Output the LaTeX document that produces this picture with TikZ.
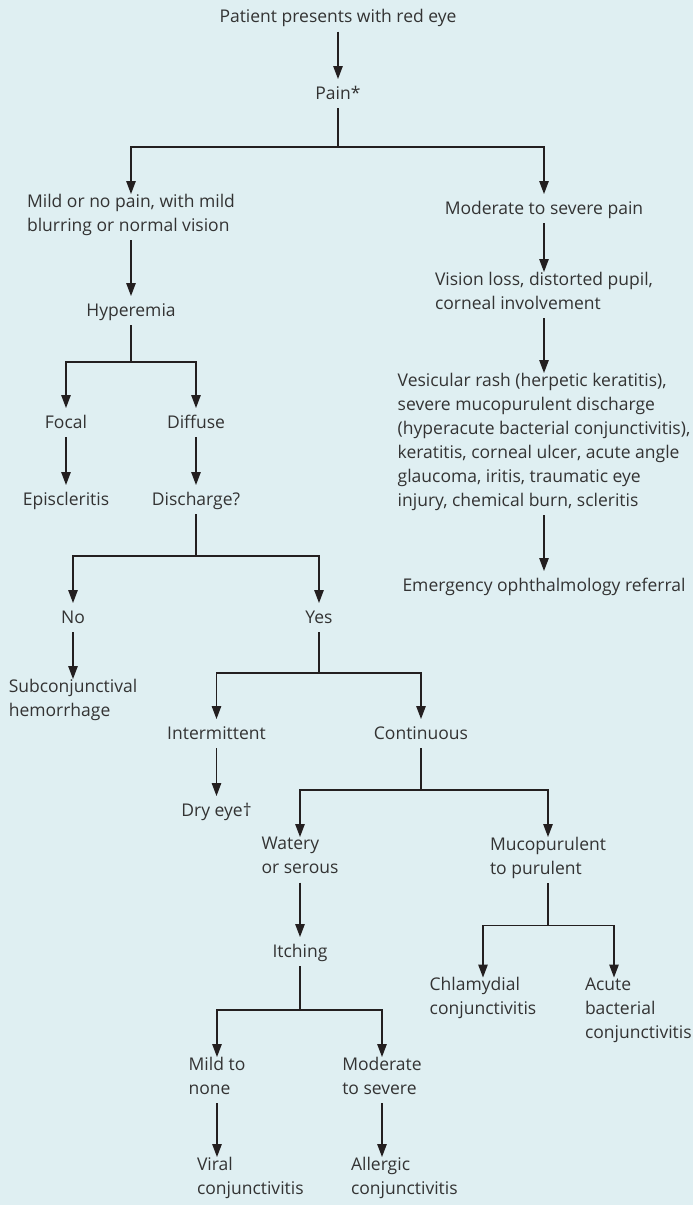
\documentclass[tikz,border=0pt]{standalone}
\usepackage{fontspec}
\setmainfont{Open Sans}
\usepackage{xcolor}
\usetikzlibrary{arrows.meta}

\definecolor{bgblue}{RGB}{223,239,242}
\definecolor{inkgray}{RGB}{51,51,51}
\definecolor{linegray}{RGB}{35,31,32}
\newcommand{\topstrut}{\rule{0pt}{20pt}}
\newcommand{\botstrut}{\rule[-9pt]{0pt}{9pt}}

\begin{document}
\begin{tikzpicture}[x=1pt, y=-1pt,
    >={Triangle[length=13pt,width=9.5pt]},
    every node/.style={inner sep=0pt, outer sep=0pt, text=inkgray,
      align=left, anchor=north,
      font=\fontsize{17.5}{24}\selectfont,
      execute at begin node=\topstrut,
      execute at end node=\botstrut},
    every edge/.style={draw=linegray, line width=1.2pt, ->},
    branch/.style={draw=linegray, line width=1.2pt, ->}]
  \fill[bgblue] (0,0) rectangle (693,1205);
  \useasboundingbox (0,0) rectangle (693,1205);

  % top of the tree
  \node (patient) at (338,2.7)  {Patient presents with red eye};
  \node (pain)    at (338,79)   {Pain*};
  \node (mild)    at (131,194)  {Mild or no pain, with mild\\blurring or normal vision};
  \node (modsev)  at (544,194)  {Moderate to severe pain};

  % right column
  \node (vision)  at (544,272)  {Vision loss, distorted pupil,\\corneal involvement};
  \node (vesic)   at (544,373)  {Vesicular rash (herpetic keratitis),\\severe mucopurulent discharge\\(hyperacute bacterial conjunctivitis),\\keratitis, corneal ulcer, acute angle\\glaucoma, iritis, traumatic eye\\injury, chemical burn, scleritis};
  \node (emerg)   at (544,571)  {Emergency ophthalmology referral};

  % left column
  \node (hyper)   at (131,296)  {Hyperemia};
  \node (focal)   at (66,408)   {Focal};
  \node (diffuse) at (196,408)  {Diffuse};
  \node (episc)   at (66,485)   {Episcleritis};
  \node (disch)   at (196,485)  {Discharge?};
  \node (no)      at (73,603)   {No};
  \node (yes)     at (319,603)  {Yes};
  \node (subconj) at (73,679)   {Subconjunctival\\hemorrhage};
  \node (inter)   at (216.5,719) {Intermittent};
  \node (cont)    at (421,719)  {Continuous};
  \node (dry)     at (216.5,796) {Dry eye†};
  \node (watery)  at (300,837)  {Watery\\or serous};
  \node (muco)    at (548,837)  {Mucopurulent\\to purulent};
  \node (itch)    at (300,937)  {Itching};
  \node (chlam)   at (483,977.5) {Chlamydial\\conjunctivitis};
  \node (acute) [anchor=north west] at (585,977.5) {Acute\\bacterial\\conjunctivitis};
  \node (mildto)  at (217,1057) {Mild to\\none};
  \node (modto)   at (382,1057) {Moderate\\to severe};
  \node (viral)  [anchor=north west] at (197,1157) {Viral\\conjunctivitis};
  \node (allerg) [anchor=north west] at (351,1157) {Allergic\\conjunctivitis};

  % straight arrows
  \path (patient) edge (pain)
        (mild)    edge (hyper)
        (modsev)  edge (vision)
        (vision)  edge (vesic)
        (vesic)   edge (emerg)
        (focal)   edge (episc)
        (diffuse) edge (disch)
        (no)      edge (subconj)
        (inter)   edge (dry)
        (watery)  edge (itch)
        (mildto.south) edge (mildto.south |- viral.north)
        (modto.south)  edge (modto.south |- allerg.north);

  % branches
  \draw[branch] (pain.south)  -- ++(0,39) -| (mild.north);
  \draw[branch] (pain.south)  -- ++(0,39) -| (modsev.north);
  \draw[branch] (hyper.south) -- ++(0,37) -| (focal.north);
  \draw[branch] (hyper.south) -- ++(0,37) -| (diffuse.north);
  \draw[branch] (disch.south) -- ++(0,42) -| (no.north);
  \draw[branch] (disch.south) -- ++(0,42) -| (yes.north);
  \draw[branch] (yes.south)   -- ++(0,41) -| (inter.north);
  \draw[branch] (yes.south)   -- ++(0,41) -| (cont.north);
  \draw[branch] (cont.south)  -- ++(0,42) -| (watery.north);
  \draw[branch] (cont.south)  -- ++(0,42) -| (muco.north);
  \draw[branch] (muco.south)  -- ++(0,42) -| (chlam.north);
  \draw[branch] (muco.south)  -- ++(0,42) -| ([xshift=29pt]acute.north west);
  \draw[branch] (itch.south)  -- ++(0,44) -| (mildto.north);
  \draw[branch] (itch.south)  -- ++(0,44) -| (modto.north);
\end{tikzpicture}
\end{document}
